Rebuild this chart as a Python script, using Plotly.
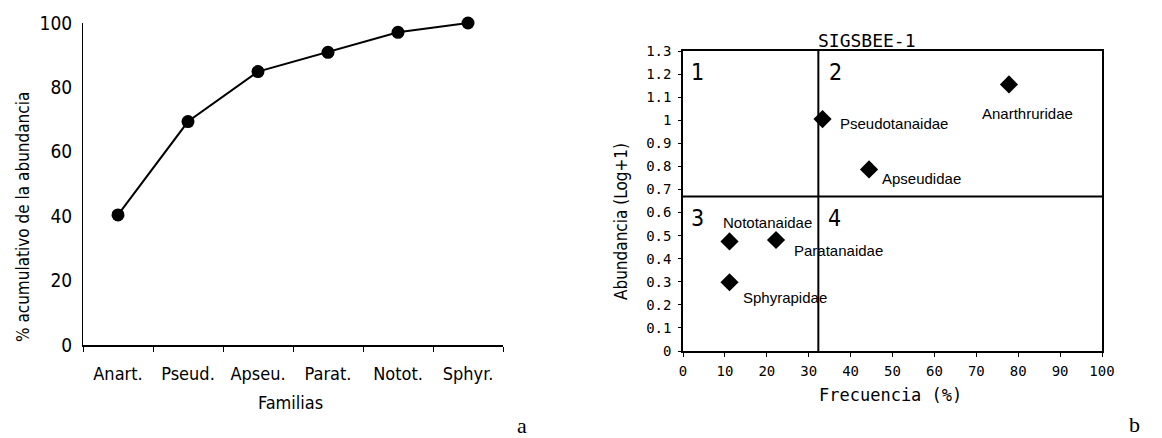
import plotly.graph_objects as go

W, H = 1162, 438

# ---- data: panel a (cumulative abundance) ----
families_short = ["Anart.", "Pseud.", "Apseu.", "Parat.", "Notot.", "Sphyr."]
cum_abundance = [40.4, 69.4, 84.9, 90.9, 97.1, 100.0]
y_ticks_a = [0, 20, 40, 60, 80, 100]

# ---- data: panel b (quadrant diagram) ----
families = ["Anarthruridae", "Pseudotanaidae", "Apseudidae", "Nototanaidae", "Paratanaidae", "Sphyrapidae"]
frequency = [77.8, 33.3, 44.4, 11.1, 22.2, 11.1]
abundance_log = [1.155, 1.005, 0.787, 0.475, 0.481, 0.298]
freq_threshold = 32.3
abund_threshold = 0.67
x_ticks_b = [0, 10, 20, 30, 40, 50, 60, 70, 80, 90, 100]
y_ticks_b = [0, 0.1, 0.2, 0.3, 0.4, 0.5, 0.6, 0.7, 0.8, 0.9, 1.0, 1.1, 1.2, 1.3]
y_ticktext_b = ["0", "0.1", "0.2", "0.3", "0.4", "0.5", "0.6", "0.7", "0.8", "0.9", "1", "1.1", "1.2", "1.3"]
quadrants = ["1", "2", "3", "4"]

# label offsets (px) relative to each point: (xanchor, xshift, yshift)
label_offsets = [("center", 19, -29), ("left", 15, -4), ("left", 11, -9),
                 ("left", -9, 19), ("left", 16, -10), ("left", 11, -15)]

NARROW = "DejaVu Sans Condensed, Liberation Sans Narrow, sans-serif"
MONO = "DejaVu Sans Mono, monospace"
SANS = "Liberation Sans, Arial, sans-serif"


def px(x, y):
    return x / W, 1 - y / H


fig = go.Figure()

fig.add_trace(go.Scatter(
    x=families_short, y=cum_abundance, mode="lines+markers",
    line=dict(color="black", width=2),
    marker=dict(symbol="circle", size=13, color="black"),
    cliponaxis=False, showlegend=False, xaxis="x", yaxis="y"))

fig.add_trace(go.Scatter(
    x=frequency, y=abundance_log, mode="markers",
    marker=dict(symbol="diamond", size=14, color="black"),
    cliponaxis=False, showlegend=False, xaxis="x2", yaxis="y2"))

axis_common = dict(showgrid=False, zeroline=False, showline=True, automargin=False,
                   linecolor="black", tickcolor="black")

fig.update_layout(
    template="none",
    width=W, height=H, autosize=False,
    margin=dict(l=0, r=0, t=0, b=0, pad=0, autoexpand=False),
    paper_bgcolor="white", plot_bgcolor="white",
    xaxis=dict(axis_common, domain=[83 / W, 503 / W], anchor="y", type="category",
               range=[-0.5, 5.5], linewidth=1.5, ticks="outside", tickson="boundaries",
               ticklen=5, tickwidth=1, ticklabelstandoff=12, tickangle=0,
               tickfont=dict(family=NARROW, size=18, color="black")),
    yaxis=dict(axis_common, domain=[(H - 345) / H, (H - 23) / H], anchor="x",
               range=[0, 100], tickvals=y_ticks_a, linewidth=1, ticks="",
               ticklabelstandoff=6,
               tickfont=dict(family=NARROW, size=19, color="black")),
    xaxis2=dict(axis_common, domain=[683 / W, 1102 / W], anchor="y2", range=[0, 100],
                tickvals=x_ticks_b, mirror=True, linewidth=1.5, ticks="outside",
                ticklen=4, tickwidth=1, ticklabelstandoff=2, tickangle=0,
                tickfont=dict(family=MONO, size=14, color="black")),
    yaxis2=dict(axis_common, domain=[(H - 351) / H, (H - 51) / H], anchor="x2",
                range=[0, 1.3], tickvals=y_ticks_b, ticktext=y_ticktext_b, mirror=True,
                linewidth=1.5, ticks="outside", ticklen=3, tickwidth=1,
                ticklabelstandoff=4,
                tickfont=dict(family=MONO, size=14, color="black")),
)

# quadrant divider lines
fig.add_shape(type="line", xref="x2", yref="y2", x0=freq_threshold, x1=freq_threshold,
              y0=-0.02, y1=1.3, line=dict(color="black", width=2))
fig.add_shape(type="line", xref="x2", yref="y2", x0=0, x1=100,
              y0=abund_threshold, y1=abund_threshold, line=dict(color="black", width=2))

ann = []


def add_text(text, x, y, font, size, xanchor="center", angle=0):
    fx, fy = px(x, y)
    ann.append(dict(text=text, x=fx, y=fy, xref="paper", yref="paper", showarrow=False,
                    xanchor=xanchor, yanchor="middle", textangle=angle,
                    font=dict(family=font, size=size, color="black")))


# axis titles panel a
add_text("% acumulativo de la abundancia", 23, 217, NARROW, 17, angle=-90)
add_text("Familias", 290, 402, NARROW, 18)
add_text("a", 522, 425, "Liberation Serif, serif", 22)

# panel b
add_text("Abundancia (Log+1)", 621, 222, NARROW, 17, angle=-90)
add_text("Frecuencia (%)", 890, 395, MONO, 17)
add_text("SIGSBEE-1", 867, 40, MONO, 18)
add_text("b", 1134, 424, "Liberation Serif, serif", 22)

quad_pos = [(697, 72), (835, 72), (697, 218), (834, 218)]
for q, (qx, qy) in zip(quadrants, quad_pos):
    add_text(q, qx, qy, NARROW, 23)

for name, fx, fy, (xa, xs, ys) in zip(families, frequency, abundance_log, label_offsets):
    ann.append(dict(text=name, x=fx, y=fy, xref="x2", yref="y2", showarrow=False,
                    xanchor=xa, yanchor="middle", xshift=xs, yshift=ys,
                    font=dict(family=SANS, size=15, color="black")))

fig.update_layout(annotations=ann)

fig.write_html("out.html")
